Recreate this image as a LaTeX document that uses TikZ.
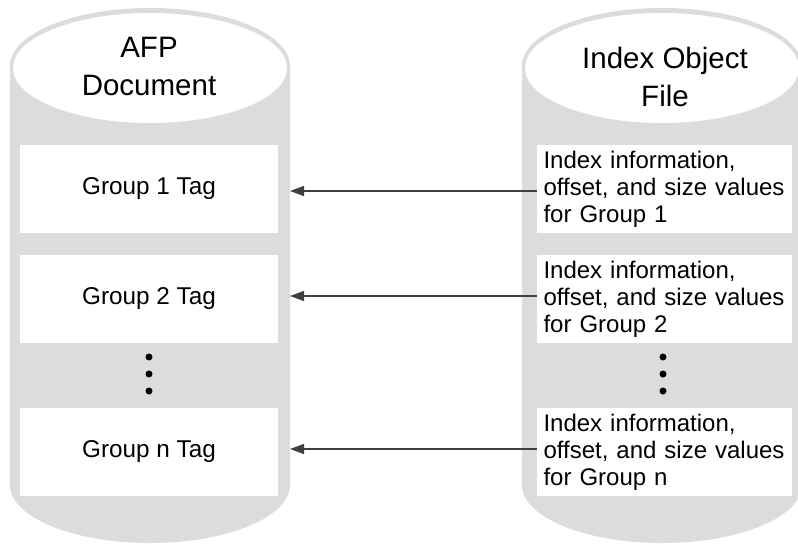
\documentclass[tikz,border=0pt]{standalone}
\usepackage{fontspec}
\setmainfont{Liberation Sans}
\usetikzlibrary{arrows.meta}
\definecolor{stip}{HTML}{DCDCDC}
\begin{document}
\begin{tikzpicture}[x=1pt,y=-1pt,
  cylfill/.style={fill=stip,draw=none},
  face/.style={fill=white,draw=none},
  tagbox/.style={fill=white,draw=none,minimum width=258pt,minimum height=88pt,inner sep=0pt,font=\fontsize{24.3}{27}\selectfont},
  infobox/.style={fill=white,draw=none,minimum width=255pt,minimum height=88pt,text width=242pt,inner xsep=6.5pt,inner ysep=0pt,align=left,font=\fontsize{24}{27}\selectfont},
  headtxt/.style={align=center,inner sep=0pt,font=\fontsize{29.5}{38}\selectfont},
  arr/.style={draw=black!75,line width=1.1pt,-{Triangle[length=14pt,width=10pt]}},
  vdot/.style={circle,fill=black,inner sep=0pt,minimum size=7pt}]
\useasboundingbox (0,0) rectangle (798,546);
% left cylinder
\fill[cylfill] (10,66) -- (10,485) arc[start angle=180,end angle=0,x radius=140,y radius=58] -- (290,66) arc[start angle=0,end angle=-180,x radius=140,y radius=58] -- cycle;
\fill[face] (150,68) ellipse[x radius=137,y radius=55];
% right cylinder
\fill[cylfill] (522,66) -- (522,485) arc[start angle=180,end angle=0,x radius=140,y radius=58] -- (802,66) arc[start angle=0,end angle=-180,x radius=140,y radius=58] -- cycle;
\fill[face] (662,68) ellipse[x radius=137,y radius=55];
% headings
\node[headtxt] (h1) at (149,66) {AFP\\Document};
\node[headtxt] (h2) at (665,77) {Index Object\\File};
% left boxes
\node[tagbox] (l1) at (149,189) {Group 1 Tag};
\node[tagbox] (l2) at (149,299) {Group 2 Tag};
\node[tagbox] (l3) at (149,452) {Group n Tag};
% right boxes
\node[infobox] (r1) at (664.5,189) {Index information,\\offset, and size values\\for Group 1};
\node[infobox] (r2) at (664.5,299) {Index information,\\offset, and size values\\for Group 2};
\node[infobox] (r3) at (664.5,452) {Index information,\\offset, and size values\\for Group n};
% dots
\node[vdot] (d1) at (149,357) {};
\node[vdot] (d2) at (149,374) {};
\node[vdot] (d3) at (149,391) {};
\node[vdot] (e1) at (663,357) {};
\node[vdot] (e2) at (663,374) {};
\node[vdot] (e3) at (663,391) {};
% arrows
\coordinate (ledge) at (290,0);
\draw[arr] ([yshift=-2pt]r1.west) -- ([yshift=-2pt]r1.west -| ledge);
\draw[arr] ([yshift=3pt]r2.west) -- ([yshift=3pt]r2.west -| ledge);
\draw[arr] ([yshift=3pt]r3.west) -- ([yshift=3pt]r3.west -| ledge);
\end{tikzpicture}
\end{document}
